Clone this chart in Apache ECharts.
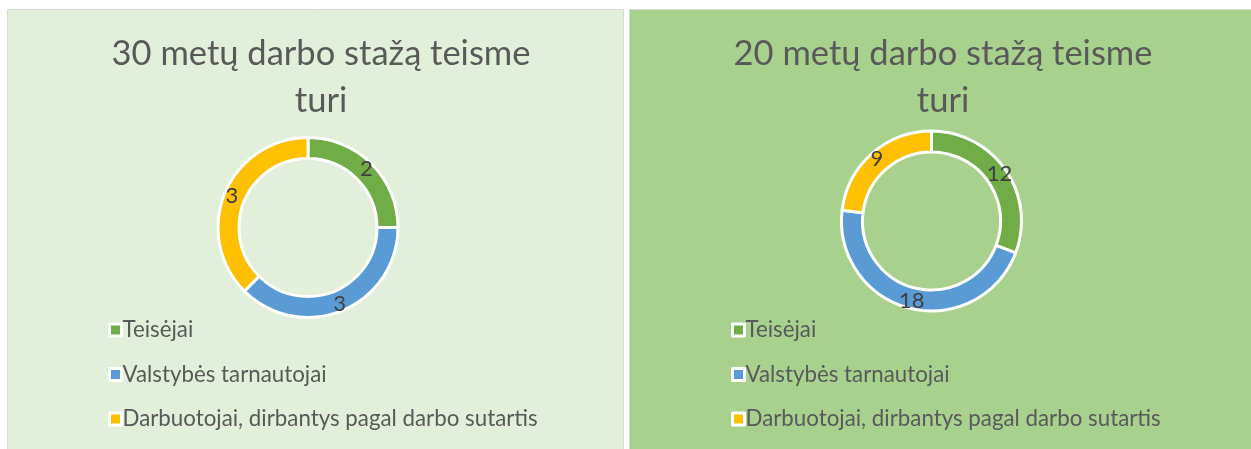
<!DOCTYPE html>
<html>
<head>
<meta charset="utf-8">
<script src="https://cdn.jsdelivr.net/npm/echarts@6/dist/echarts.min.js"></script>
<style>
  html, body { margin: 0; padding: 0; background: #fff; }
  #chart { width: 1251px; height: 449px; }
</style>
</head>
<body>
<div id="chart"></div>
<script>
// data
const categories = ['Teisėjai', 'Valstybės tarnautojai', 'Darbuotojai, dirbantys pagal darbo sutartis']
const colors = ['#70AD47', '#5B9BD5', '#FFC000']
const values30 = [2, 3, 3]
const values20 = [12, 18, 9]
const titles = ['30 metų darbo stažą teisme\nturi', '20 metų darbo stažą teisme\nturi']

const font = 'Lato, "Open Sans", sans-serif'

function pieData(values) {
  return categories.map((name, i) => ({ name: name, value: values[i], itemStyle: { color: colors[i] } }))
}

function pieSeries(values, center) {
  return {
    type: 'pie',
    center: center,
    radius: [69, 90],
    startAngle: 90,
    clockwise: true,
    avoidLabelOverlap: false,
    itemStyle: { borderColor: '#fff', borderWidth: 3 },
    label: { show: true, position: 'inside', formatter: '{c}', color: '#404040', fontSize: 22, fontFamily: font },
    labelLine: { show: false },
    emphasis: { disabled: true },
    data: pieData(values)
  }
}

function legend(left) {
  return {
    orient: 'vertical',
    left: left,
    top: 314,
    itemWidth: 12,
    itemHeight: 12,
    itemGap: 22.5,
    icon: 'rect',
    itemStyle: { borderColor: '#fff', borderWidth: 3 },
    textStyle: { color: '#595959', fontSize: 22.3, lineHeight: 22, fontFamily: font, padding: [0, 0, 0, -4] },
    data: categories
  }
}

function title(text, x) {
  return {
    text: text, left: x, top: 25, textAlign: 'center',
    textStyle: { color: '#595959', fontSize: 34.5, fontWeight: 'normal', fontFamily: font, lineHeight: 47 }
  }
}

const chart = echarts.init(document.getElementById('chart'))
chart.setOption({
  animation: false,
  graphic: [
    { type: 'rect', shape: { x: 7.5, y: 9.5, width: 616, height: 445 }, style: { fill: '#E2EFDA', stroke: '#D9D9D9', lineWidth: 1 }, z: -10 },
    { type: 'rect', shape: { x: 629.5, y: 9.5, width: 625, height: 445 }, style: { fill: '#A9D18E', stroke: '#D9D9D9', lineWidth: 1 }, z: -10 }
  ],
  title: [title(titles[0], 316), title(titles[1], 938)],
  legend: [legend(103), legend(726)],
  series: [
    pieSeries(values30, [308, 227.5]),
    pieSeries(values20, [931.5, 221])
  ]
})
</script>
</body>
</html>
